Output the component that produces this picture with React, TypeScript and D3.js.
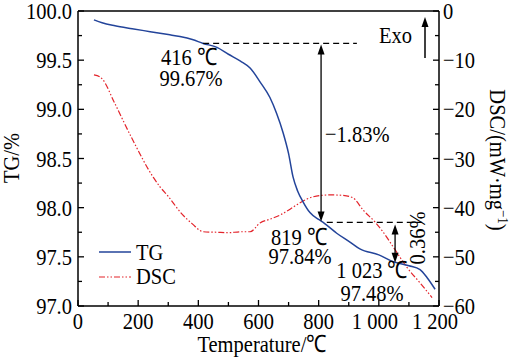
import React from "react";
import * as d3 from "d3";

const TG_T = [53, 80, 123, 180, 240, 300, 339, 380, 416, 462, 500, 540, 572, 605, 638, 660, 682, 700, 715, 730, 748, 771, 800, 819, 860, 904, 937, 1000, 1048, 1100, 1137, 1160, 1187];
const TG_V = [99.91, 99.88, 99.85, 99.82, 99.79, 99.76, 99.74, 99.71, 99.67, 99.63, 99.56, 99.49, 99.42, 99.28, 99.12, 98.96, 98.76, 98.55, 98.31, 98.17, 98.06, 97.95, 97.88, 97.84, 97.74, 97.65, 97.58, 97.52, 97.45, 97.41, 97.37, 97.29, 97.17];

const DSC_T = [53, 73, 83, 120, 180, 250, 273, 300, 340, 380, 416, 460, 500, 540, 572, 605, 640, 672, 705, 738, 781, 838, 880, 914, 948, 987, 1010, 1048, 1093, 1137, 1177];
const DSC_V = [-13.0, -13.4, -14.0, -18.5, -26.0, -33.8, -35.8, -37.7, -40.9, -43.3, -44.9, -45.0, -45.1, -44.9, -44.9, -43.1, -42.3, -41.5, -40.3, -39.0, -37.8, -37.4, -37.5, -38.0, -40.5, -42.9, -44.6, -48.0, -52.1, -55.3, -58.3];

const X_TICKS = [0, 200, 400, 600, 800, 1000, 1200];
const X_LABELS = ["0", "200", "400", "600", "800", "1 000", "1 200"];
const X_MINOR = [100, 300, 500, 700, 900, 1100];
const YL_TICKS = [97.0, 97.5, 98.0, 98.5, 99.0, 99.5, 100.0];
const YL_MINOR = [97.25, 97.75, 98.25, 98.75, 99.25, 99.75];
const YR_TICKS = [0, -10, -20, -30, -40, -50, -60];
const YR_MINOR = [-5, -15, -25, -35, -45, -55];

const FONT = "'Liberation Serif', 'Times New Roman', serif";
const FS = 20.5;
const SY = 1.17;

const L = 78, R = 439, T = 11, B = 306;

function Txt({ x, y, rot = 0, anchor = "start", size = FS, children }: any) {
  return (
    <text
      transform={`translate(${x},${y}) rotate(${rot}) scale(1,${SY})`}
      textAnchor={anchor}
      fontFamily={FONT}
      fontSize={size}
      fill="#000"
    >
      {children}
    </text>
  );
}

function Arrow({ x, y1, y2 }: { x: number; y1: number; y2: number }) {
  const h = 10, w = 3.5;
  return (
    <g>
      <line x1={x} x2={x} y1={y1 + h - 1} y2={y2 - h + 1} stroke="#000" strokeWidth={1.3} />
      <path d={`M${x},${y1} L${x - w},${y1 + h} L${x + w},${y1 + h} Z`} fill="#000" />
      <path d={`M${x},${y2} L${x - w},${y2 - h} L${x + w},${y2 - h} Z`} fill="#000" />
    </g>
  );
}

export default function App() {
  const x = d3.scaleLinear().domain([0, 1200]).range([L, R]);
  const yL = d3.scaleLinear().domain([97, 100]).range([B, T]);
  const yR = d3.scaleLinear().domain([-60, 0]).range([B, T]);

  const tgLine = d3
    .line<number>()
    .x((_, i) => x(TG_T[i]))
    .y((v) => yL(v))
    .curve(d3.curveMonotoneX);
  const dscLine = d3
    .line<number>()
    .x((_, i) => x(DSC_T[i]))
    .y((v) => yR(v))
    .curve(d3.curveMonotoneX);

  const blue = "#23449a";
  const red = "#e3242b";
  const dscDash = "6,2,1.5,2,1.5,2";

  return (
    <svg
      width={510}
      height={364}
      style={{ position: "absolute", left: 0, top: 0, background: "#fff" }}
    >
      <rect x={0} y={0} width={510} height={364} fill="#fff" />

      <path d={dscLine(DSC_V) || ""} fill="none" stroke={red} strokeWidth={1.2} strokeDasharray={dscDash} />
      <path d={tgLine(TG_V) || ""} fill="none" stroke={blue} strokeWidth={1.5} />

      <line x1={L} x2={R} y1={T} y2={T} stroke="#000" strokeWidth={1.5} />
      <line x1={L} x2={R} y1={B} y2={B} stroke="#000" strokeWidth={1.5} />
      <line x1={L} x2={L} y1={T} y2={B} stroke="#000" strokeWidth={1.5} />
      <line x1={R} x2={R} y1={T} y2={B} stroke="#000" strokeWidth={1.5} />

      {X_TICKS.map((t, i) => (
        <g key={"xt" + t}>
          <line x1={x(t)} x2={x(t)} y1={B} y2={B - 6} stroke="#000" strokeWidth={1.3} />
          <Txt x={x(t) + (i >= 5 ? -4 : 0)} y={329} anchor="middle">
            {X_LABELS[i]}
          </Txt>
        </g>
      ))}
      {X_MINOR.map((t) => (
        <line key={"xm" + t} x1={x(t)} x2={x(t)} y1={B} y2={B - 4} stroke="#000" strokeWidth={1.3} />
      ))}

      {YL_TICKS.map((t) => (
        <g key={"yl" + t}>
          <line x1={L} x2={L + 6} y1={yL(t)} y2={yL(t)} stroke="#000" strokeWidth={1.3} />
          <Txt x={L - 6} y={yL(t) + 8} anchor="end">
            {t.toFixed(1)}
          </Txt>
        </g>
      ))}
      {YL_MINOR.map((t) => (
        <line key={"ylm" + t} x1={L} x2={L + 4} y1={yL(t)} y2={yL(t)} stroke="#000" strokeWidth={1.3} />
      ))}

      {YR_TICKS.map((t) => (
        <g key={"yr" + t}>
          <line x1={R} x2={R - 6} y1={yR(t)} y2={yR(t)} stroke="#000" strokeWidth={1.3} />
          <Txt x={R + 4} y={yR(t) + 8} anchor="start">
            {t === 0 ? "0" : "\u2212" + Math.abs(t)}
          </Txt>
        </g>
      ))}
      {YR_MINOR.map((t) => (
        <line key={"yrm" + t} x1={R} x2={R - 4} y1={yR(t)} y2={yR(t)} stroke="#000" strokeWidth={1.3} />
      ))}

      <Txt x={262} y={352} anchor="middle">Temperature/℃</Txt>
      <Txt x={19} y={158} rot={-90} anchor="middle">TG/%</Txt>
      <text
        transform={`translate(490,160) rotate(90) scale(1,${SY})`}
        textAnchor="middle"
        fontFamily={FONT}
        fontSize={FS}
      >
        DSC/(mW·mg
        <tspan fontSize={13} dy={-7}>−1</tspan>
        <tspan dy={7}>)</tspan>
      </text>

      <line x1={x(416)} x2={x(927)} y1={yL(99.67)} y2={yL(99.67)} stroke="#000" strokeWidth={1.2} strokeDasharray="6,4" />
      <line x1={x(827)} x2={x(1144)} y1={yL(97.85)} y2={yL(97.85)} stroke="#000" strokeWidth={1.2} strokeDasharray="6,4" />
      <Arrow x={x(808)} y1={yL(99.67) + 1} y2={yL(97.85) - 1} />
      <Arrow x={x(1054)} y1={yL(97.85) + 2} y2={yL(97.44)} />

      <Txt x={189} y={65} anchor="middle">416 ℃</Txt>
      <Txt x={191} y={86} anchor="middle">99.67%</Txt>
      <Txt x={299} y={245} anchor="middle">819 ℃</Txt>
      <Txt x={300} y={264} anchor="middle">97.84%</Txt>
      <Txt x={372} y={278} anchor="middle">1 023 ℃</Txt>
      <Txt x={372} y={301} anchor="middle">97.48%</Txt>
      <Txt x={325} y={142} anchor="start">−1.83%</Txt>
      <Txt x={425} y={238} rot={-90} anchor="middle">0.36%</Txt>

      <Txt x={379} y={43} anchor="start">Exo</Txt>
      <line x1={425} x2={425} y1={58} y2={26} stroke="#000" strokeWidth={1.5} />
      <path d="M425,17 L421.5,27 L428.5,27 Z" fill="#000" />

      <line x1={99} x2={131} y1={252} y2={252} stroke={blue} strokeWidth={1.5} />
      <Txt x={136} y={260} anchor="start">TG</Txt>
      <line x1={99} x2={131} y1={277} y2={277} stroke={red} strokeWidth={1.2} strokeDasharray={dscDash} />
      <Txt x={136} y={284} anchor="start">DSC</Txt>
    </svg>
  );
}
